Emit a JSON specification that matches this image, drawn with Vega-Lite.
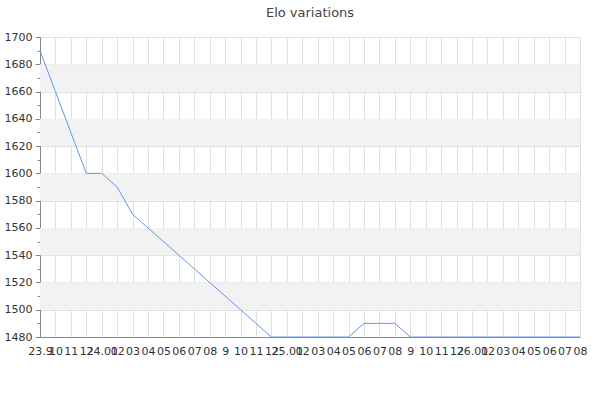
{
  "$schema": "https://vega.github.io/schema/vega-lite/v6.json",
  "autosize": "none",
  "width": 540,
  "height": 300,
  "padding": {"left": 40, "top": 37, "right": 20, "bottom": 63},
  "background": "white",
  "title": {
    "text": "Elo variations",
    "font": "DejaVu Sans",
    "fontSize": 13,
    "fontWeight": "normal",
    "color": "#444",
    "anchor": "middle",
    "offset": 11
  },
  "config": {
    "view": {"stroke": null},
    "axis": {
      "labelFont": "DejaVu Sans",
      "labelFontSize": 11,
      "labelColor": "#333",
      "domainColor": "#888",
      "tickColor": "#888",
      "gridColor": "#e0e0e0",
      "title": null,
      "zindex": 1
    }
  },
  "datasets": {
    "elo": [
      {"month": "2023-09", "elo": 1690},
      {"month": "2023-10", "elo": 1660},
      {"month": "2023-11", "elo": 1630},
      {"month": "2023-12", "elo": 1600},
      {"month": "2024-01", "elo": 1600},
      {"month": "2024-02", "elo": 1590},
      {"month": "2024-03", "elo": 1570},
      {"month": "2024-04", "elo": 1560},
      {"month": "2024-05", "elo": 1550},
      {"month": "2024-06", "elo": 1540},
      {"month": "2024-07", "elo": 1530},
      {"month": "2024-08", "elo": 1520},
      {"month": "2024-09", "elo": 1510},
      {"month": "2024-10", "elo": 1500},
      {"month": "2024-11", "elo": 1490},
      {"month": "2024-12", "elo": 1480},
      {"month": "2025-01", "elo": 1480},
      {"month": "2025-02", "elo": 1480},
      {"month": "2025-03", "elo": 1480},
      {"month": "2025-04", "elo": 1480},
      {"month": "2025-05", "elo": 1480},
      {"month": "2025-06", "elo": 1490},
      {"month": "2025-07", "elo": 1490},
      {"month": "2025-08", "elo": 1490},
      {"month": "2025-09", "elo": 1480},
      {"month": "2025-10", "elo": 1480},
      {"month": "2025-11", "elo": 1480},
      {"month": "2025-12", "elo": 1480},
      {"month": "2026-01", "elo": 1480},
      {"month": "2026-02", "elo": 1480},
      {"month": "2026-03", "elo": 1480},
      {"month": "2026-04", "elo": 1480},
      {"month": "2026-05", "elo": 1480},
      {"month": "2026-06", "elo": 1480},
      {"month": "2026-07", "elo": 1480},
      {"month": "2026-08", "elo": 1480}
    ],
    "bands": [
      {"lo": 1500, "hi": 1520},
      {"lo": 1540, "hi": 1560},
      {"lo": 1580, "hi": 1600},
      {"lo": 1620, "hi": 1640},
      {"lo": 1660, "hi": 1680}
    ]
  },
  "layer": [
    {
      "data": {"name": "bands"},
      "mark": {"type": "rect", "color": "#f2f2f2"},
      "encoding": {
        "y": {
          "field": "lo",
          "type": "quantitative",
          "scale": {"domain": [1480, 1700], "nice": false, "zero": false},
          "axis": {
            "values": [1480, 1490, 1500, 1510, 1520, 1530, 1540, 1550, 1560, 1570, 1580, 1590, 1600, 1610, 1620, 1630, 1640, 1650, 1660, 1670, 1680, 1690, 1700],
            "labelExpr": "datum.value % 20 === 0 ? datum.label : ''",
            "format": "d",
            "labelOverlap": false,
            "labelPadding": 3,
            "tickSize": {"condition": {"test": "datum.value % 20 === 0", "value": 5}, "value": 3},
            "gridOpacity": {"condition": {"test": "datum.value % 20 === 0", "value": 1}, "value": 0}
          }
        },
        "y2": {"field": "hi"}
      }
    },
    {
      "data": {"name": "elo"},
      "mark": {"type": "line", "color": "#6495ed", "strokeWidth": 1},
      "encoding": {
        "x": {
          "field": "month",
          "type": "ordinal",
          "sort": null,
          "scale": {"type": "point", "padding": 0},
          "axis": {
            "grid": true,
            "ticks": false,
            "labelAngle": 0,
            "labelPadding": 8,
            "labelOverlap": false,
            "labelExpr": "datum.value == '2023-09' ? '23.9' : substring(datum.value, 5, 7) == '01' ? substring(datum.value, 2, 4) + '.01' : substring(datum.value, 5, 7) == '09' ? '9' : substring(datum.value, 5, 7)"
          }
        },
        "y": {
          "field": "elo",
          "type": "quantitative",
          "scale": {"domain": [1480, 1700], "nice": false, "zero": false},
          "axis": {
            "values": [1480, 1490, 1500, 1510, 1520, 1530, 1540, 1550, 1560, 1570, 1580, 1590, 1600, 1610, 1620, 1630, 1640, 1650, 1660, 1670, 1680, 1690, 1700],
            "labelExpr": "datum.value % 20 === 0 ? datum.label : ''",
            "format": "d",
            "labelOverlap": false,
            "labelPadding": 3,
            "tickSize": {"condition": {"test": "datum.value % 20 === 0", "value": 5}, "value": 3},
            "gridOpacity": {"condition": {"test": "datum.value % 20 === 0", "value": 1}, "value": 0}
          }
        }
      }
    }
  ]
}
